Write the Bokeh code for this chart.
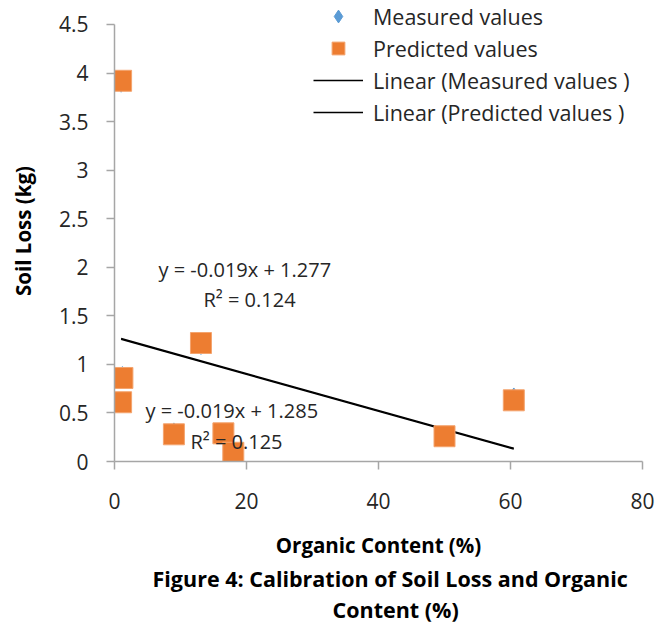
from bokeh.plotting import figure
from bokeh.models import Legend, LegendItem, Label, Title, FixedTicker
from bokeh.embed import file_html
from bokeh.resources import INLINE

# ---- data ----
organic_content = [1.0, 1.2, 1.0, 13.1, 9.0, 16.5, 18.0, 50.0, 60.5]
measured_loss   = [3.88, 0.90, 0.62, 1.18, 0.32, 0.29, 0.09, 0.25, 0.68]
predicted_loss  = [3.92, 0.86, 0.61, 1.22, 0.28, 0.29, 0.09, 0.26, 0.63]
trend_slopes     = [-0.019, -0.019]      # measured, predicted
trend_intercepts = [1.277, 1.285]
trend_r2         = [0.124, 0.125]
x_ticks = [0, 20, 40, 60, 80]
y_ticks = [0, 0.5, 1, 1.5, 2, 2.5, 3, 3.5, 4, 4.5]
y_tick_labels = ["0", "0.5", "1", "1.5", "2", "2.5", "3", "3.5", "4", "4.5"]

FONT = "Open Sans"
TXT = "#262626"

# frame reaches the top of the canvas so the legend is not clipped;
# the y axis itself is bounded to 0..4.5
Y_TOP = 4.5 * 461.7 / 437.7

p = figure(width=658, height=624, x_range=(0, 80), y_range=(0, Y_TOP),
           min_border_left=114, min_border_right=16, min_border_top=0,
           min_border_bottom=162, output_backend="svg", toolbar_location=None)
p.outline_line_color = None
p.xgrid.visible = False
p.ygrid.visible = False
p.background_fill_color = "white"

for ax in (p.xaxis[0], p.yaxis[0]):
    ax.axis_line_color = "#a6a6a6"
    ax.axis_line_width = 1.5
    ax.major_tick_line_color = "#a6a6a6"
    ax.major_tick_line_width = 1.5
    ax.major_tick_in = 0
    ax.major_tick_out = 8
    ax.minor_tick_line_color = None
    ax.major_label_text_font = FONT
    ax.major_label_text_font_size = "21px"
    ax.major_label_text_color = TXT
    ax.axis_label_text_font = FONT
    ax.axis_label_text_font_size = "20.5px"
    ax.axis_label_text_font_style = "bold"
    ax.axis_label_text_color = "black"

p.xaxis.ticker = FixedTicker(ticks=x_ticks)
p.yaxis.ticker = FixedTicker(ticks=y_ticks)
p.yaxis.bounds = (y_ticks[0], y_ticks[-1])
p.yaxis.major_label_overrides = {t: l for t, l in zip(y_ticks, y_tick_labels)}
p.xaxis.major_label_standoff = 23
p.yaxis.major_label_standoff = 18
p.xaxis.axis_label = "Organic Content (%)"
p.yaxis.axis_label = "Soil Loss (kg)"
p.xaxis.axis_label_standoff = 19
p.yaxis.axis_label_standoff = 19

# trend lines
x_min, x_max = min(organic_content), max(organic_content)
lines = []
for s, b in zip(trend_slopes, trend_intercepts):
    lines.append(p.line([x_min, x_max], [s * x_min + b, s * x_max + b],
                        line_color="black", line_width=1.5))

meas = p.scatter(organic_content, measured_loss, marker="diamond", size=15,
                 fill_color="#5B9BD5", line_color="#5B9BD5")
pred = p.scatter(organic_content, predicted_loss, marker="square", size=21,
                 fill_color="#ED7D31", line_color="#F4A46E", line_width=1)

legend = Legend(items=[
    LegendItem(label="Measured values", renderers=[meas]),
    LegendItem(label="Predicted values", renderers=[pred]),
    LegendItem(label="Linear (Measured values )", renderers=[lines[0]]),
    LegendItem(label="Linear (Predicted values )", renderers=[lines[1]]),
], location=(199, 333))
legend.border_line_color = None
legend.background_fill_alpha = 0
legend.padding = 0
legend.margin = 0
legend.glyph_width = 50
legend.glyph_height = 32
legend.label_height = 20
legend.spacing = 0
legend.label_standoff = 10
legend.label_text_font = FONT
legend.label_text_font_size = "21.5px"
legend.label_text_color = TXT
p.add_layout(legend, "center")

# trendline equations
eq_pos = [((6.67, 1.972), (13.48, 1.664)), ((4.7, 0.522), (11.5, 0.203))]
for (s, b, r2), (eqp, rp) in zip(zip(trend_slopes, trend_intercepts, trend_r2), eq_pos):
    sign = "+" if b >= 0 else "-"
    p.add_layout(Label(x=eqp[0], y=eqp[1], text=f"y = {s}x {sign} {abs(b)}",
                       text_font=FONT, text_font_size="20px", text_color=TXT,
                       text_baseline="middle"))
    p.add_layout(Label(x=rp[0], y=rp[1], text=f"R\u00b2 = {r2}",
                       text_font=FONT, text_font_size="20px", text_color=TXT,
                       text_baseline="middle"))

# caption
caption = ["Figure 4: Calibration of Soil Loss and Organic", "Content (%)"]
for line, off, st in zip(caption, [38, 218], [0, 1]):
    t = Title(text=line, align="left", text_font=FONT, text_font_size="21.5px",
              text_font_style="bold", text_color="black", offset=off, standoff=st)
    p.add_layout(t, "below")

open("out.html", "w").write(file_html(p, INLINE))
